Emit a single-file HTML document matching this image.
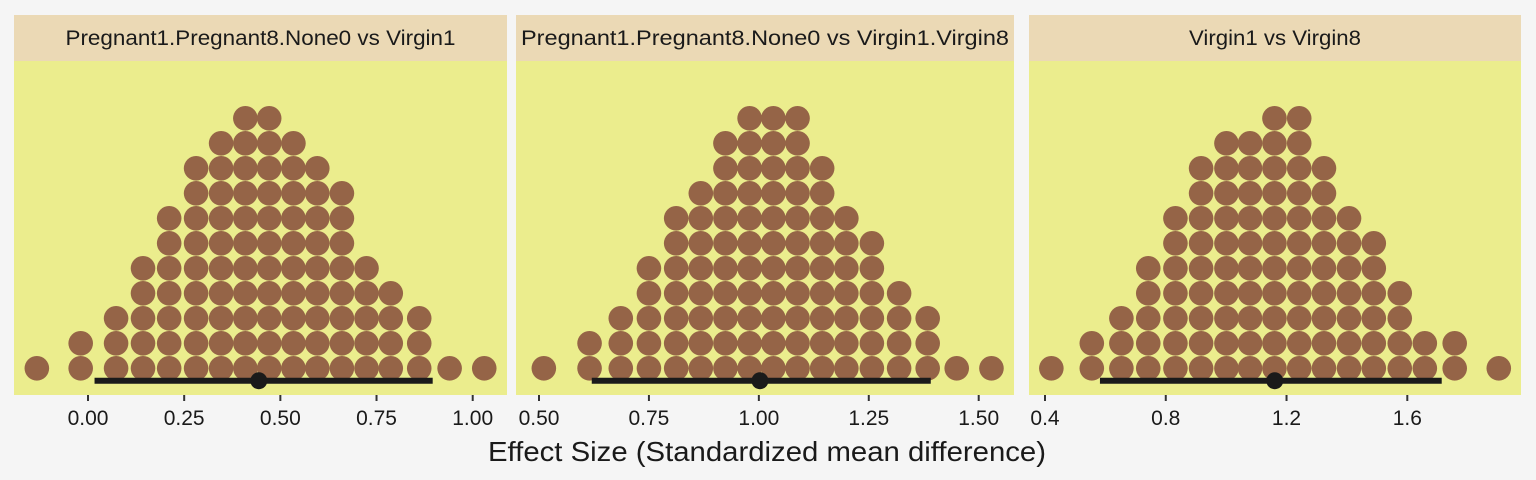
<!DOCTYPE html>
<html><head><meta charset="utf-8"><style>
body{margin:0;background:#f5f5f5;}
svg{display:block;font-family:"Liberation Sans",sans-serif;}
</style></head><body>
<svg id="chart" width="1536" height="480" viewBox="0 0 1536 480">
<rect width="1536" height="480" fill="#f5f5f5"/>
<text x="767" y="461" text-anchor="middle" font-size="28" fill="#1a1a1a" textLength="558" lengthAdjust="spacingAndGlyphs">Effect Size (Standardized mean difference)</text>
</svg>
<script>
const titles = ["Pregnant1.Pregnant8.None0 vs Virgin1","Pregnant1.Pregnant8.None0 vs Virgin1.Virgin8","Virgin1 vs Virgin8"];
const binValues1 = [-0.133,-0.019,0.073,0.143,0.211,0.281,0.346,0.409,0.471,0.534,0.596,0.660,0.724,0.787,0.861,0.940,1.030];
const binCounts1 = [1,2,3,5,7,9,10,11,11,10,9,8,5,4,3,1,1];
const binValues2 = [0.511,0.615,0.686,0.750,0.812,0.868,0.924,0.979,1.033,1.088,1.144,1.199,1.257,1.319,1.384,1.450,1.529];
const binCounts2 = [1,2,3,5,7,8,10,11,11,11,9,7,6,4,3,1,1];
const binValues3 = [0.421,0.555,0.653,0.742,0.832,0.917,1.001,1.079,1.160,1.242,1.324,1.407,1.489,1.575,1.658,1.757,1.903];
const binCounts3 = [1,2,3,5,7,9,10,10,11,11,9,7,6,4,2,2,1];
const means = [0.444,1.0025,1.161];
const ciLow = [0.017,0.620,0.582];
const ciHigh = [0.896,1.391,1.714];
const ticks1 = [0,0.25,0.5,0.75,1.0];
const tickLabels1 = ["0.00","0.25","0.50","0.75","1.00"];
const ticks2 = [0.5,0.75,1.0,1.25,1.5];
const tickLabels2 = ["0.50","0.75","1.00","1.25","1.50"];
const ticks3 = [0.4,0.8,1.2,1.6];
const tickLabels3 = ["0.4","0.8","1.2","1.6"];

const NS="http://www.w3.org/2000/svg";
const svg=document.getElementById('chart');
function mk(tag,attrs,parent){const e=document.createElementNS(NS,tag);for(const k in attrs)e.setAttribute(k,attrs[k]);(parent||svg).appendChild(e);return e;}
const panels=[
 {x0:14,x1:507,domain:[0,1],px:[88,472.7],vals:binValues1,cnts:binCounts1,ticks:ticks1,labels:tickLabels1,tw:390},
 {x0:516,x1:1014,domain:[0.5,1.5],px:[539,978.7],vals:binValues2,cnts:binCounts2,ticks:ticks2,labels:tickLabels2,tw:488},
 {x0:1029,x1:1521,domain:[0.4,1.6],px:[1045,1407.3],vals:binValues3,cnts:binCounts3,ticks:ticks3,labels:tickLabels3,tw:172}
];
const stripTop=15,stripBot=61,plotBot=395,baseY=368.3,rowStep=25,r=12.3;
panels.forEach((p,i)=>{
 const xs=v=>p.px[0]+(v-p.domain[0])/(p.domain[1]-p.domain[0])*(p.px[1]-p.px[0]);
 const g=mk('g',{});
 
 
 const strip=mk('rect',{x:p.x0,y:stripTop,width:p.x1-p.x0,height:stripBot-stripTop,fill:'#ebd9b5'},g);
 
 
 const st=mk('text',{x:(p.x0+p.x1)/2,y:45,'text-anchor':'middle','font-size':'21',fill:'#1a1a1a',textLength:p.tw,lengthAdjust:'spacingAndGlyphs'},g);
 st.textContent=titles[i];
 
 
 const bg=mk('rect',{x:p.x0,y:stripBot,width:p.x1-p.x0,height:plotBot-stripBot,fill:'#ebed8d'},g);
 
 
 p.vals.forEach((v,j)=>{
  for(let k=0;k<p.cnts[j];k++){
   const c=mk('circle',{cx:xs(v),cy:baseY-k*rowStep,r:r,fill:'#956447'},g);
   
   
  }
 });
 const ci=mk('line',{x1:xs(ciLow[i]),x2:xs(ciHigh[i]),y1:380.7,y2:380.7,stroke:'#1a1a1a','stroke-width':6},g);
 
 
 const m=mk('circle',{cx:xs(means[i]),cy:380.7,r:8.5,fill:'#1a1a1a'},g);
 
 
 p.ticks.forEach((t,j)=>{
  const tk=mk('line',{x1:xs(t),x2:xs(t),y1:plotBot,y2:plotBot+6,stroke:'#333','stroke-width':2},g);
  
  
  const tl=mk('text',{x:xs(t),y:425,'text-anchor':'middle','font-size':'21',fill:'#1a1a1a'},g);
  tl.textContent=p.labels[j];
  
  
 });
});
</script>
</body></html>
